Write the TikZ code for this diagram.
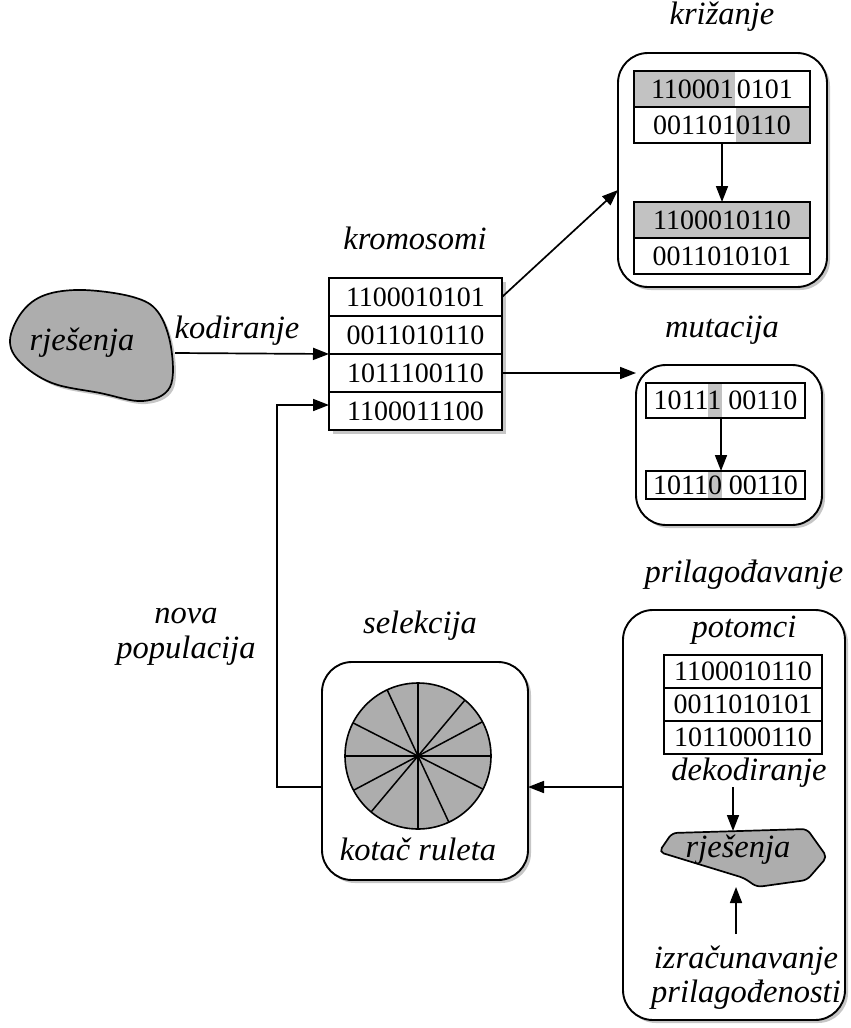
\documentclass[tikz,border=0pt]{standalone}
\usepackage{fontspec}
\setmainfont{Liberation Serif}
\usetikzlibrary{arrows.meta,shadows,calc}
\newcommand\digfont{\fontsize{28}{30}\selectfont}
\newcommand\labfont{\fontsize{32.5}{35}\selectfont\itshape}
\definecolor{blobgray}{gray}{0.68}
\definecolor{hlgray}{gray}{0.76}
\begin{document}
\begin{tikzpicture}[x=1pt,y=-1pt,
  lbl/.style={font=\labfont, inner sep=0pt, anchor=base},
  row/.style={draw, line width=1.6pt, inner sep=0pt, outer sep=0pt, font=\digfont},
  panel/.style={draw, line width=1.9pt, rounded corners=30pt, fill=white, outer sep=0pt,
    drop shadow={shadow xshift=3pt, shadow yshift=-3pt, fill=gray!45, opacity=1}},
  arr/.style={line width=1.7pt, -{Triangle[length=16pt,width=12pt]}},
  blob/.style={draw, line width=1.7pt, fill=blobgray},
]
\useasboundingbox (0,0) rectangle (851,1028);

% ---------- initial solutions ----------
\fill[gray!45] plot[smooth cycle, tension=0.6] coordinates {(13,343) (25,315) (48,298) (86,293) (136,300) (161,315) (174,350) (173,390) (146,404) (103,396) (55,386) (23,365)};
\draw[blob] plot[smooth cycle, tension=0.6] coordinates {(10,340) (22,312) (45,295) (83,290) (133,297) (158,312) (171,347) (170,387) (143,401) (100,393) (52,383) (20,362)};
\node[lbl] (sol) at (82,350) {rješenja};
\coordinate (solR) at (175,353);
\node[lbl] (enc) at (237,338) {kodiranje};

% ---------- chromosomes ----------
\node[lbl] (chromlbl) at (415,249) {kromosomi};
\fill[gray!45] (332.5,281.5) rectangle (505.5,433.5);
\begin{scope}[row/.append style={minimum width=173pt, minimum height=38pt, fill=white}]
  \node[row] (k1) at (415.5,297) {1100010101};
  \node[row] (k2) at (415.5,335) {0011010110};
  \node[row] (k3) at (415.5,373) {1011100110};
  \node[row] (k4) at (415.5,411) {1100011100};
\end{scope}

% ---------- crossover ----------
\node[lbl] (crosslbl) at (722,24) {križanje};
\node[panel, minimum width=209pt, minimum height=234pt] (cross) at (722.5,170) {};
\fill[hlgray] (634,71) rectangle (735,107);
\fill[hlgray] (736,107) rectangle (810,143);
\begin{scope}[row/.append style={minimum width=176pt, minimum height=36pt}]
  \node[row] (c1) at (722,89) {110001\kern3pt 0101};
  \node[row] (c2) at (722,125) {0011010110};
  \node[row, fill=hlgray] (c3) at (722,220) {1100010110};
  \node[row] (c4) at (722,256) {0011010101};
\end{scope}
\draw[arr] (c2.south) -- (c3.north);

% ---------- mutation ----------
\node[lbl] (mutlbl) at (722,337) {mutacija};
\node[panel, minimum width=186pt, minimum height=160pt] (mut) at (729,445) {};
\fill[hlgray] (708,383) rectangle (722,418);
\fill[hlgray] (708,471) rectangle (722,499);
\begin{scope}[row/.append style={minimum width=159pt}]
  \node[row, minimum height=35pt] (m1) at (725.5,400.5) {10111 00110};
  \node[row, minimum height=28pt] (m2) at (725.5,485) {10110 00110};
\end{scope}
\draw[arr] ([xshift=-4.5pt]m1.south) -- ([xshift=-4.5pt]m2.north);

% ---------- fitness ----------
\node[lbl] (fitlbl) at (744,582) {prilagođavanje};
\node[panel, minimum width=222pt, minimum height=410pt] (fit) at (734,815) {};
\node[lbl] (offlbl) at (744,637) {potomci};
\begin{scope}[row/.append style={minimum width=158pt, minimum height=33pt}]
  \node[row] (p1) at (743,671.5) {1100010110};
  \node[row] (p2) at (743,704.5) {0011010101};
  \node[row] (p3) at (743,737.5) {1011000110};
\end{scope}
\node[lbl] (dec) at (749,780) {dekodiranje};
\draw[blob, rounded corners=5pt] (659,852) -- (672,833) -- (807,829) -- (827,857) -- (807,880) -- (757,887) -- (744,878) -- cycle;
\node[lbl] (sol2) at (738,857) {rješenja};
\coordinate (decout) at (733,787);
\coordinate (soltop) at (733,831);
\coordinate (solbot) at (736,887);
\coordinate (evalout) at (736,934);
\draw[arr] (decout) -- (soltop);
\draw[arr] (evalout) -- (solbot);
\node[lbl] (eval1) at (746,968) {izračunavanje};
\node[lbl] (eval2) at (746,1002) {prilagođenosti};

% ---------- selection ----------
\node[lbl] (sellbl) at (420,633) {selekcija};
\node[panel, minimum width=206pt, minimum height=218pt] (sel) at (425,771) {};
\node[circle, draw, line width=1.6pt, fill=blobgray, minimum size=146pt, inner sep=0pt, outer sep=0pt] (wheel) at (418,756) {};
\foreach \a in {0,28,50,90,115,153}
  \draw[line width=1.5pt] (wheel.\a) -- (wheel.\a+180);
\node[lbl] (roul) at (418,860) {kotač ruleta};

\node[lbl] (new1) at (186,623) {nova};
\node[lbl] (new2) at (186,658) {populacija};

% ---------- connectors ----------
\coordinate (selL) at ([yshift=-16pt]sel.west);
\draw[arr] (solR) -- (k2.south west);
\draw[arr] (k1.east) -- ([yshift=-20pt]cross.west);
\draw[arr] (k3.east) -- (k3.east -| mut.west);
\draw[arr] (fit.west |- selL) -- (sel.east |- selL);
\draw[arr] (selL) -- ++(-45,0) |- ([yshift=6pt]k4.west);
\end{tikzpicture}
\end{document}
